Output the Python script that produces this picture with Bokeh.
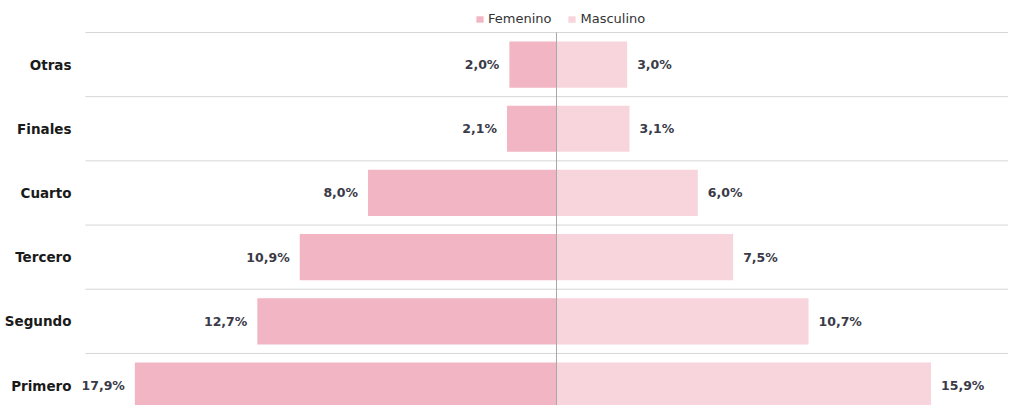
from bokeh.plotting import figure
from bokeh.models import Range1d, FixedTicker, Legend, LegendItem, ColumnDataSource
from bokeh.core.properties import value
from bokeh.embed import file_html
from bokeh.resources import INLINE

# Data (bottom to top)
categories = ["Primero", "Segundo", "Tercero", "Cuarto", "Finales", "Otras"]
femenino = [17.9, 12.7, 10.9, 8.0, 2.1, 2.0]
masculino = [15.9, 10.7, 7.5, 6.0, 3.1, 3.0]
series_names = ["Femenino", "Masculino"]

FEM_COLOR = "#F2B5C4"
MASC_COLOR = "#F8D4DC"
FONT = "DejaVu Sans"

n = len(categories)
idx = list(range(n))

X_MIN, X_MAX = -20.42, 19.19

def fmt(v):
    return f"{v:.1f}".replace(".", ",") + "%"

src = ColumnDataSource(dict(
    y=idx,
    fem_left=[-v for v in femenino],
    zero=[0] * n,
    masc=masculino,
    fem_lab=[fmt(v) for v in femenino],
    masc_lab=[fmt(v) for v in masculino],
))

p = figure(width=1008, height=405, output_backend="svg", toolbar_location=None,
           x_range=Range1d(X_MIN, X_MAX), y_range=Range1d(-0.311, n - 0.5 + 0.498),
           min_border_left=75, min_border_right=0, min_border_top=0, min_border_bottom=0)
p.outline_line_color = None
p.xgrid.visible = False
p.ygrid.visible = False
p.xaxis.visible = False

# horizontal separators between categories
sep_y = [k + 0.5 for k in range(n)]
p.segment(x0=[-20.0] * n, y0=sep_y, x1=[X_MAX] * n, y1=sep_y,
          line_color="#d6d6d6", line_width=1)

r_f = p.hbar(y="y", left="fem_left", right="zero", height=0.72, source=src,
             fill_color=FEM_COLOR, line_color=None)
r_m = p.hbar(y="y", left="zero", right="masc", height=0.72, source=src,
             fill_color=MASC_COLOR, line_color=None)

# center line
p.segment(x0=[0], y0=[-0.5], x1=[0], y1=[n - 0.5], line_color="#a8a8a8", line_width=1)

p.text(x="fem_left", y="y", text="fem_lab", source=src, x_offset=-10,
       text_align="right", text_baseline="middle", text_font=value(FONT),
       text_font_style="bold", text_font_size="12.5px", text_color="#3a3a48")
p.text(x="masc", y="y", text="masc_lab", source=src, x_offset=10,
       text_align="left", text_baseline="middle", text_font=value(FONT),
       text_font_style="bold", text_font_size="12.5px", text_color="#3a3a48")

ax = p.yaxis[0]
ax.ticker = FixedTicker(ticks=idx)
ax.major_label_overrides = {i: c for i, c in enumerate(categories)}
ax.axis_line_color = None
ax.major_tick_line_color = None
ax.major_tick_out = 0
ax.major_tick_in = 0
ax.minor_tick_line_color = None
ax.major_label_standoff = 4
ax.major_label_text_font = FONT
ax.major_label_text_font_style = "bold"
ax.major_label_text_font_size = "13.5px"
ax.major_label_text_color = "#1a1a1a"

legend = Legend(items=[LegendItem(label=series_names[0], renderers=[r_f]),
                       LegendItem(label=series_names[1], renderers=[r_m])],
                location=(400, 379), orientation="horizontal",
                glyph_width=9, glyph_height=8, label_text_font=FONT,
                label_text_font_size="13px", label_text_color="#333333",
                label_standoff=4, spacing=16, padding=0, margin=0,
                border_line_color=None, background_fill_alpha=0)
p.add_layout(legend)

open("out.html", "w").write(file_html(p, INLINE))
